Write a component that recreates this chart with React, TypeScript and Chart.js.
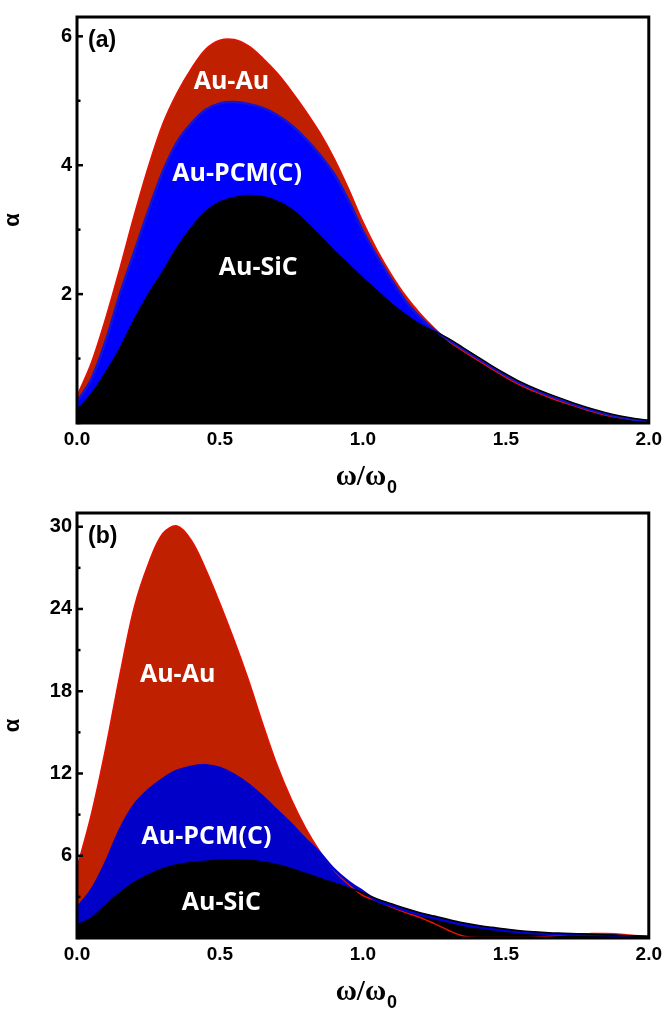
import React, { useEffect, useRef } from 'react';
import { Chart, registerables } from 'chart.js';

Chart.register(...registerables);

// ω/ω0 sample positions
const omega = [
  0.0, 0.05, 0.1, 0.15, 0.2, 0.25, 0.3, 0.35, 0.4, 0.45,
  0.5, 0.55, 0.6, 0.65, 0.7, 0.75, 0.8, 0.85, 0.9, 0.95,
  1.0, 1.05, 1.1, 1.15, 1.2, 1.25, 1.3, 1.35, 1.4, 1.45,
  1.5, 1.55, 1.6, 1.65, 1.7, 1.75, 1.8, 1.85, 1.9, 1.95, 2.0,
];

// Panel (a)
const alphaA_AuAu = [
  0.42, 0.93, 1.62, 2.40, 3.22, 3.98, 4.64, 5.12, 5.50, 5.80,
  5.94, 5.95, 5.85, 5.66, 5.43, 5.15, 4.84, 4.50, 4.10, 3.63,
  3.12, 2.68, 2.30, 1.97, 1.70, 1.47, 1.27, 1.12, 0.98, 0.84,
  0.71, 0.59, 0.49, 0.40, 0.32, 0.25, 0.18, 0.12, 0.08, 0.05, 0.03,
];
const alphaA_AuPCM = [
  0.33, 0.68, 1.27, 2.00, 2.65, 3.30, 3.90, 4.36, 4.65, 4.86,
  4.96, 4.98, 4.95, 4.89, 4.78, 4.62, 4.41, 4.16, 3.86, 3.45,
  2.98, 2.58, 2.22, 1.89, 1.64, 1.44, 1.29, 1.15, 1.01, 0.87,
  0.74, 0.62, 0.52, 0.43, 0.35, 0.27, 0.20, 0.14, 0.09, 0.05, 0.03,
];
const alphaA_AuSiC = [
  0.20, 0.45, 0.78, 1.16, 1.60, 2.00, 2.35, 2.72, 3.03, 3.28,
  3.43, 3.50, 3.53, 3.51, 3.44, 3.32, 3.12, 2.90, 2.67, 2.46,
  2.25, 2.05, 1.85, 1.68, 1.53, 1.42, 1.31, 1.17, 1.03, 0.89,
  0.76, 0.64, 0.54, 0.45, 0.37, 0.29, 0.22, 0.16, 0.11, 0.07, 0.04,
];

// Panel (b)
const alphaB_AuAu = [
  5.1, 9.0, 13.8, 19.2, 24.1, 27.3, 29.5, 30.05, 29.0, 26.9,
  24.4, 21.7, 18.8, 15.6, 12.6, 10.1, 8.0, 6.3, 4.9, 3.9,
  3.1, 2.7, 2.25, 1.85, 1.5, 1.05, 0.55, 0.15, 0.04, 0.03,
  0.03, 0.04, 0.06, 0.12, 0.22, 0.30, 0.32, 0.32, 0.28, 0.18, 0.10,
];
const alphaB_AuPCM = [
  2.2, 3.5, 5.5, 7.9, 9.7, 10.8, 11.6, 12.2, 12.5, 12.6,
  12.4, 11.9, 11.2, 10.3, 9.3, 8.3, 7.2, 6.2, 5.0, 4.1,
  3.4, 2.7, 2.35, 2.0, 1.7, 1.45, 1.2, 0.97, 0.8, 0.65,
  0.52, 0.42, 0.35, 0.3, 0.27, 0.24, 0.21, 0.18, 0.15, 0.12, 0.09,
];
const alphaB_AuSiC = [
  0.95, 1.45, 2.4, 3.3, 4.05, 4.6, 5.05, 5.35, 5.5, 5.6,
  5.68, 5.7, 5.65, 5.55, 5.35, 5.05, 4.7, 4.35, 4.0, 3.65,
  3.3, 2.85, 2.5, 2.15, 1.85, 1.6, 1.35, 1.12, 0.93, 0.78,
  0.65, 0.53, 0.45, 0.39, 0.35, 0.31, 0.27, 0.23, 0.19, 0.15, 0.11,
];

const seriesNames = ['Au-SiC', 'Au-PCM(C)', 'Au-Au'];
const yMajorA = [2, 4, 6];
const yMajorB = [6, 12, 18, 24, 30];

const labelsA = [
  { text: 'Au-Au', x: 0.54, y: 5.29 },
  { text: 'Au-PCM(C)', x: 0.56, y: 3.86 },
  { text: 'Au-SiC', x: 0.634, y: 2.41 },
];
const labelsB = [
  { text: 'Au-Au', x: 0.352, y: 19.2 },
  { text: 'Au-PCM(C)', x: 0.453, y: 7.37 },
  { text: 'Au-SiC', x: 0.505, y: 2.55 },
];

const decor = {
  id: 'decor',
  afterDraw(chart: any, _args: any, opts: any) {
    const { ctx, chartArea: a, scales } = chart;
    const xs = scales.x;
    const ys = scales.y;
    ctx.save();
    // inward y ticks
    ctx.strokeStyle = '#000';
    ctx.lineWidth = 2.5;
    ys.ticks.forEach((t: any) => {
      const py = ys.getPixelForValue(t.value);
      const len = opts.major.includes(t.value) ? 6 : 3.5;
      ctx.beginPath();
      ctx.moveTo(a.left, py);
      ctx.lineTo(a.left + len, py);
      ctx.stroke();
    });
    // frame
    ctx.lineWidth = 3;
    ctx.strokeRect(a.left, a.top, a.right - a.left, a.bottom - a.top);
    // series labels
    ctx.fillStyle = '#fff';
    ctx.font = 'bold 25px "Open Sans"';
    ctx.textAlign = 'center';
    ctx.textBaseline = 'middle';
    opts.labels.forEach((l: any) => {
      ctx.fillText(l.text, xs.getPixelForValue(l.x), ys.getPixelForValue(l.y));
    });
    // panel letter
    ctx.fillStyle = '#000';
    ctx.font = 'bold 23px "Liberation Sans"';
    ctx.textAlign = 'left';
    ctx.fillText(opts.letter, a.left + 11, a.top + 24);
    // x-axis title  ω/ω0
    const main = 'ω/ω';
    ctx.font = 'bold 29px "Liberation Serif"';
    const w1 = ctx.measureText(main).width;
    ctx.font = 'bold 18px "Liberation Sans"';
    const w2 = ctx.measureText('0').width;
    const cx = (a.left + a.right) / 2 + 3;
    const x0 = cx - (w1 + w2) / 2;
    const base = a.bottom + 62;
    ctx.textBaseline = 'alphabetic';
    ctx.font = 'bold 29px "Liberation Serif"';
    ctx.fillText(main, x0, base);
    ctx.font = 'bold 18px "Liberation Sans"';
    ctx.fillText('0', x0 + w1 + 1, base + 8);
    ctx.restore();
  },
};

type Panel = {
  a: number[];
  p: number[];
  s: number[];
  yMax: number;
  yStep: number;
  major: number[];
  labels: any[];
  letter: string;
  pcmColor: string;
  pcmLine: string;
  padTop: number;
  padRight: number;
  xHeight: number;
};

function buildConfig(pn: Panel): any {
  const pts = (arr: number[]) => omega.map((x, i) => ({ x, y: arr[i] }));
  const common = {
    pointRadius: 0,
    cubicInterpolationMode: 'default',
    tension: 0.35,
  };
  return {
    type: 'line',
    data: {
      datasets: [
        {
          ...common,
          label: seriesNames[0],
          data: pts(pn.s),
          borderColor: '#000000',
          backgroundColor: '#000000',
          borderWidth: 1.5,
          fill: 'origin',
        },
        {
          ...common,
          label: seriesNames[1],
          data: pts(pn.p),
          borderColor: pn.pcmLine,
          backgroundColor: pn.pcmColor,
          borderWidth: 2.5,
          fill: 'origin',
        },
        {
          ...common,
          label: seriesNames[2],
          data: pts(pn.a),
          borderColor: '#e81000',
          backgroundColor: '#bf2000',
          borderWidth: 1.5,
          fill: 'origin',
        },
      ],
    },
    options: {
      animation: false,
      responsive: false,
      layout: { padding: { top: pn.padTop, right: pn.padRight, left: 0, bottom: 0 } },
      plugins: {
        legend: { display: false },
        tooltip: { enabled: false },
        filler: { drawTime: 'beforeDatasetsDraw' },
        decor: { major: pn.major, labels: pn.labels, letter: pn.letter },
      },
      scales: {
        x: {
          type: 'linear',
          min: 0,
          max: 2,
          grid: { display: false, drawTicks: false },
          border: { display: false },
          ticks: {
            stepSize: 0.5,
            padding: 5,
            color: '#000',
            font: { family: 'Liberation Sans', size: 19, weight: 'bold' },
            callback: (v: number) => v.toFixed(1),
            maxRotation: 0,
          },
          afterFit: (s: any) => {
            s.height = pn.xHeight;
          },
        },
        y: {
          type: 'linear',
          min: 0,
          max: pn.yMax,
          grid: { display: false, drawTicks: false },
          border: { display: false },
          ticks: {
            stepSize: pn.yStep,
            includeBounds: false,
            padding: 5,
            color: '#000',
            font: { family: 'Liberation Sans', size: 20, weight: 'bold' },
            callback: (v: number) => (pn.major.includes(v) ? String(v) : ''),
          },
          title: {
            display: true,
            text: 'α',
            color: '#000',
            padding: 0,
            font: { family: 'Liberation Sans', size: 22, weight: 'bold' },
          },
          afterFit: (s: any) => {
            s.width = 77;
          },
        },
      },
    },
    plugins: [decor],
  };
}

const panelA: Panel = {
  a: alphaA_AuAu,
  p: alphaA_AuPCM,
  s: alphaA_AuSiC,
  yMax: 6.3,
  yStep: 1,
  major: yMajorA,
  labels: labelsA,
  letter: '(a)',
  pcmColor: '#0000ff',
  pcmLine: '#1414d8',
  padTop: 4,
  padRight: 16,
  xHeight: 77,
};

const panelB: Panel = {
  a: alphaB_AuAu,
  p: alphaB_AuPCM,
  s: alphaB_AuSiC,
  yMax: 31,
  yStep: 3,
  major: yMajorB,
  labels: labelsB,
  letter: '(b)',
  pcmColor: '#0000c8',
  pcmLine: '#0000d0',
  padTop: 23,
  padRight: 14,
  xHeight: 75,
};

function PanelChart({ cfg, top, height }: { cfg: Panel; top: number; height: number }) {
  const ref = useRef<HTMLCanvasElement>(null);
  useEffect(() => {
    if (!ref.current) return;
    const chart = new Chart(ref.current, buildConfig(cfg));
    return () => chart.destroy();
  }, [cfg]);
  return (
    <canvas
      ref={ref}
      width={667}
      height={height}
      style={{ position: 'absolute', left: 0, top, width: 667, height }}
    />
  );
}

export default function App() {
  return (
    <div
      style={{
        position: 'absolute',
        left: 0,
        top: 0,
        width: 667,
        height: 1013,
        background: '#fff',
        overflow: 'hidden',
      }}
    >
      <PanelChart cfg={panelA} top={0} height={500} />
      <PanelChart cfg={panelB} top={490} height={523} />
    </div>
  );
}
